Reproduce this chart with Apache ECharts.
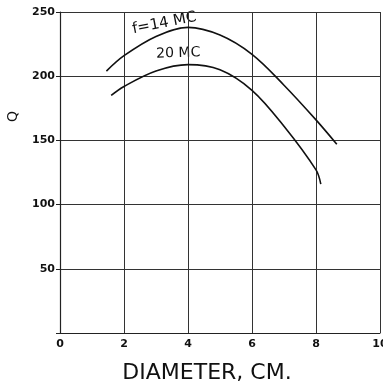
<!DOCTYPE html>
<html>
<head>
<meta charset="utf-8">
<script src="https://cdn.jsdelivr.net/npm/echarts@6/dist/echarts.min.js"></script>
<style>
  html, body { margin: 0; padding: 0; background: #fff; }
  #chart { width: 383px; height: 387px; }
</style>
</head>
<body>
<div id="chart"></div>
<script>
// Q versus coil diameter at two frequencies
const xTicks = [0, 2, 4, 6, 8, 10];
const yTicks = [50, 100, 150, 200, 250];

const diam14 = [1.45, 2, 3, 4, 5, 6, 7, 8, 8.65];
const q14    = [204, 216, 231, 238, 232, 217, 193, 166, 147];
const diam20 = [1.6, 2, 3, 4, 5, 6, 7, 8, 8.15];
const q20    = [185, 192, 204, 209, 205, 189, 161, 127, 116];

const label14 = 'f=14 MC';
const label20 = '20 MC';
const yTitle = 'Q';
const xTitle = 'DIAMETER, CM.';

const pairs = (xs, ys) => xs.map((x, i) => [x, ys[i]]);

const chart = echarts.init(document.getElementById('chart'), null, { renderer: 'canvas' });

const lineStyle = { color: '#111', width: 1.6 };
const tickFont = { fontFamily: 'DejaVu Sans', fontWeight: 'bold', fontSize: 11, color: '#111' };

chart.setOption({
  animation: false,
  backgroundColor: '#fff',
  grid: { left: 60, right: 3, top: 12, bottom: 54, show: false, outerBoundsMode: 'none' },
  xAxis: {
    type: 'value', min: 0, max: 10, interval: 2,
    axisLine: { show: true, lineStyle: { color: '#222', width: 1 } },
    axisTick: { show: false },
    splitLine: { show: true, lineStyle: { color: '#333', width: 1 } },
    axisLabel: Object.assign({ margin: 6, formatter: v => xTicks.includes(v) ? String(v) : '' }, tickFont),
    name: xTitle,
    nameLocation: 'middle',
    nameGap: 29,
    nameTextStyle: { fontFamily: 'DejaVu Sans', fontSize: 22, color: '#111', padding: [0, 26, 0, 0] }
  },
  yAxis: {
    type: 'value', min: 0, max: 250, interval: 50,
    axisLine: { show: true, lineStyle: { color: '#222', width: 1.2 } },
    axisTick: { show: true, length: 4, lineStyle: { color: '#222' } },
    splitLine: { show: true, lineStyle: { color: '#333', width: 1 } },
    axisLabel: Object.assign({ margin: 5, formatter: v => yTicks.includes(v) ? String(v) : '' }, tickFont)
  },
  series: [
    { type: 'line', data: pairs(diam14, q14), smooth: 0.35, symbol: 'none', lineStyle: lineStyle, z: 5 },
    { type: 'line', data: pairs(diam20, q20), smooth: 0.35, symbol: 'none', lineStyle: lineStyle, z: 5 }
  ],
  graphic: [
    { type: 'text', x: 6, y: 122, rotation: Math.PI / 2, style: { text: yTitle, fontFamily: 'DejaVu Sans', fontSize: 14, fill: '#111' } },
    { type: 'text', x: 131, y: 22, rotation: 0.19, style: { text: label14, fontFamily: 'DejaVu Sans', fontSize: 15, fill: '#111' } },
    { type: 'text', x: 156, y: 47, rotation: 0.03, style: { text: label20, fontFamily: 'DejaVu Sans', fontSize: 14, fill: '#111' } }
  ]
});
</script>
</body>
</html>
